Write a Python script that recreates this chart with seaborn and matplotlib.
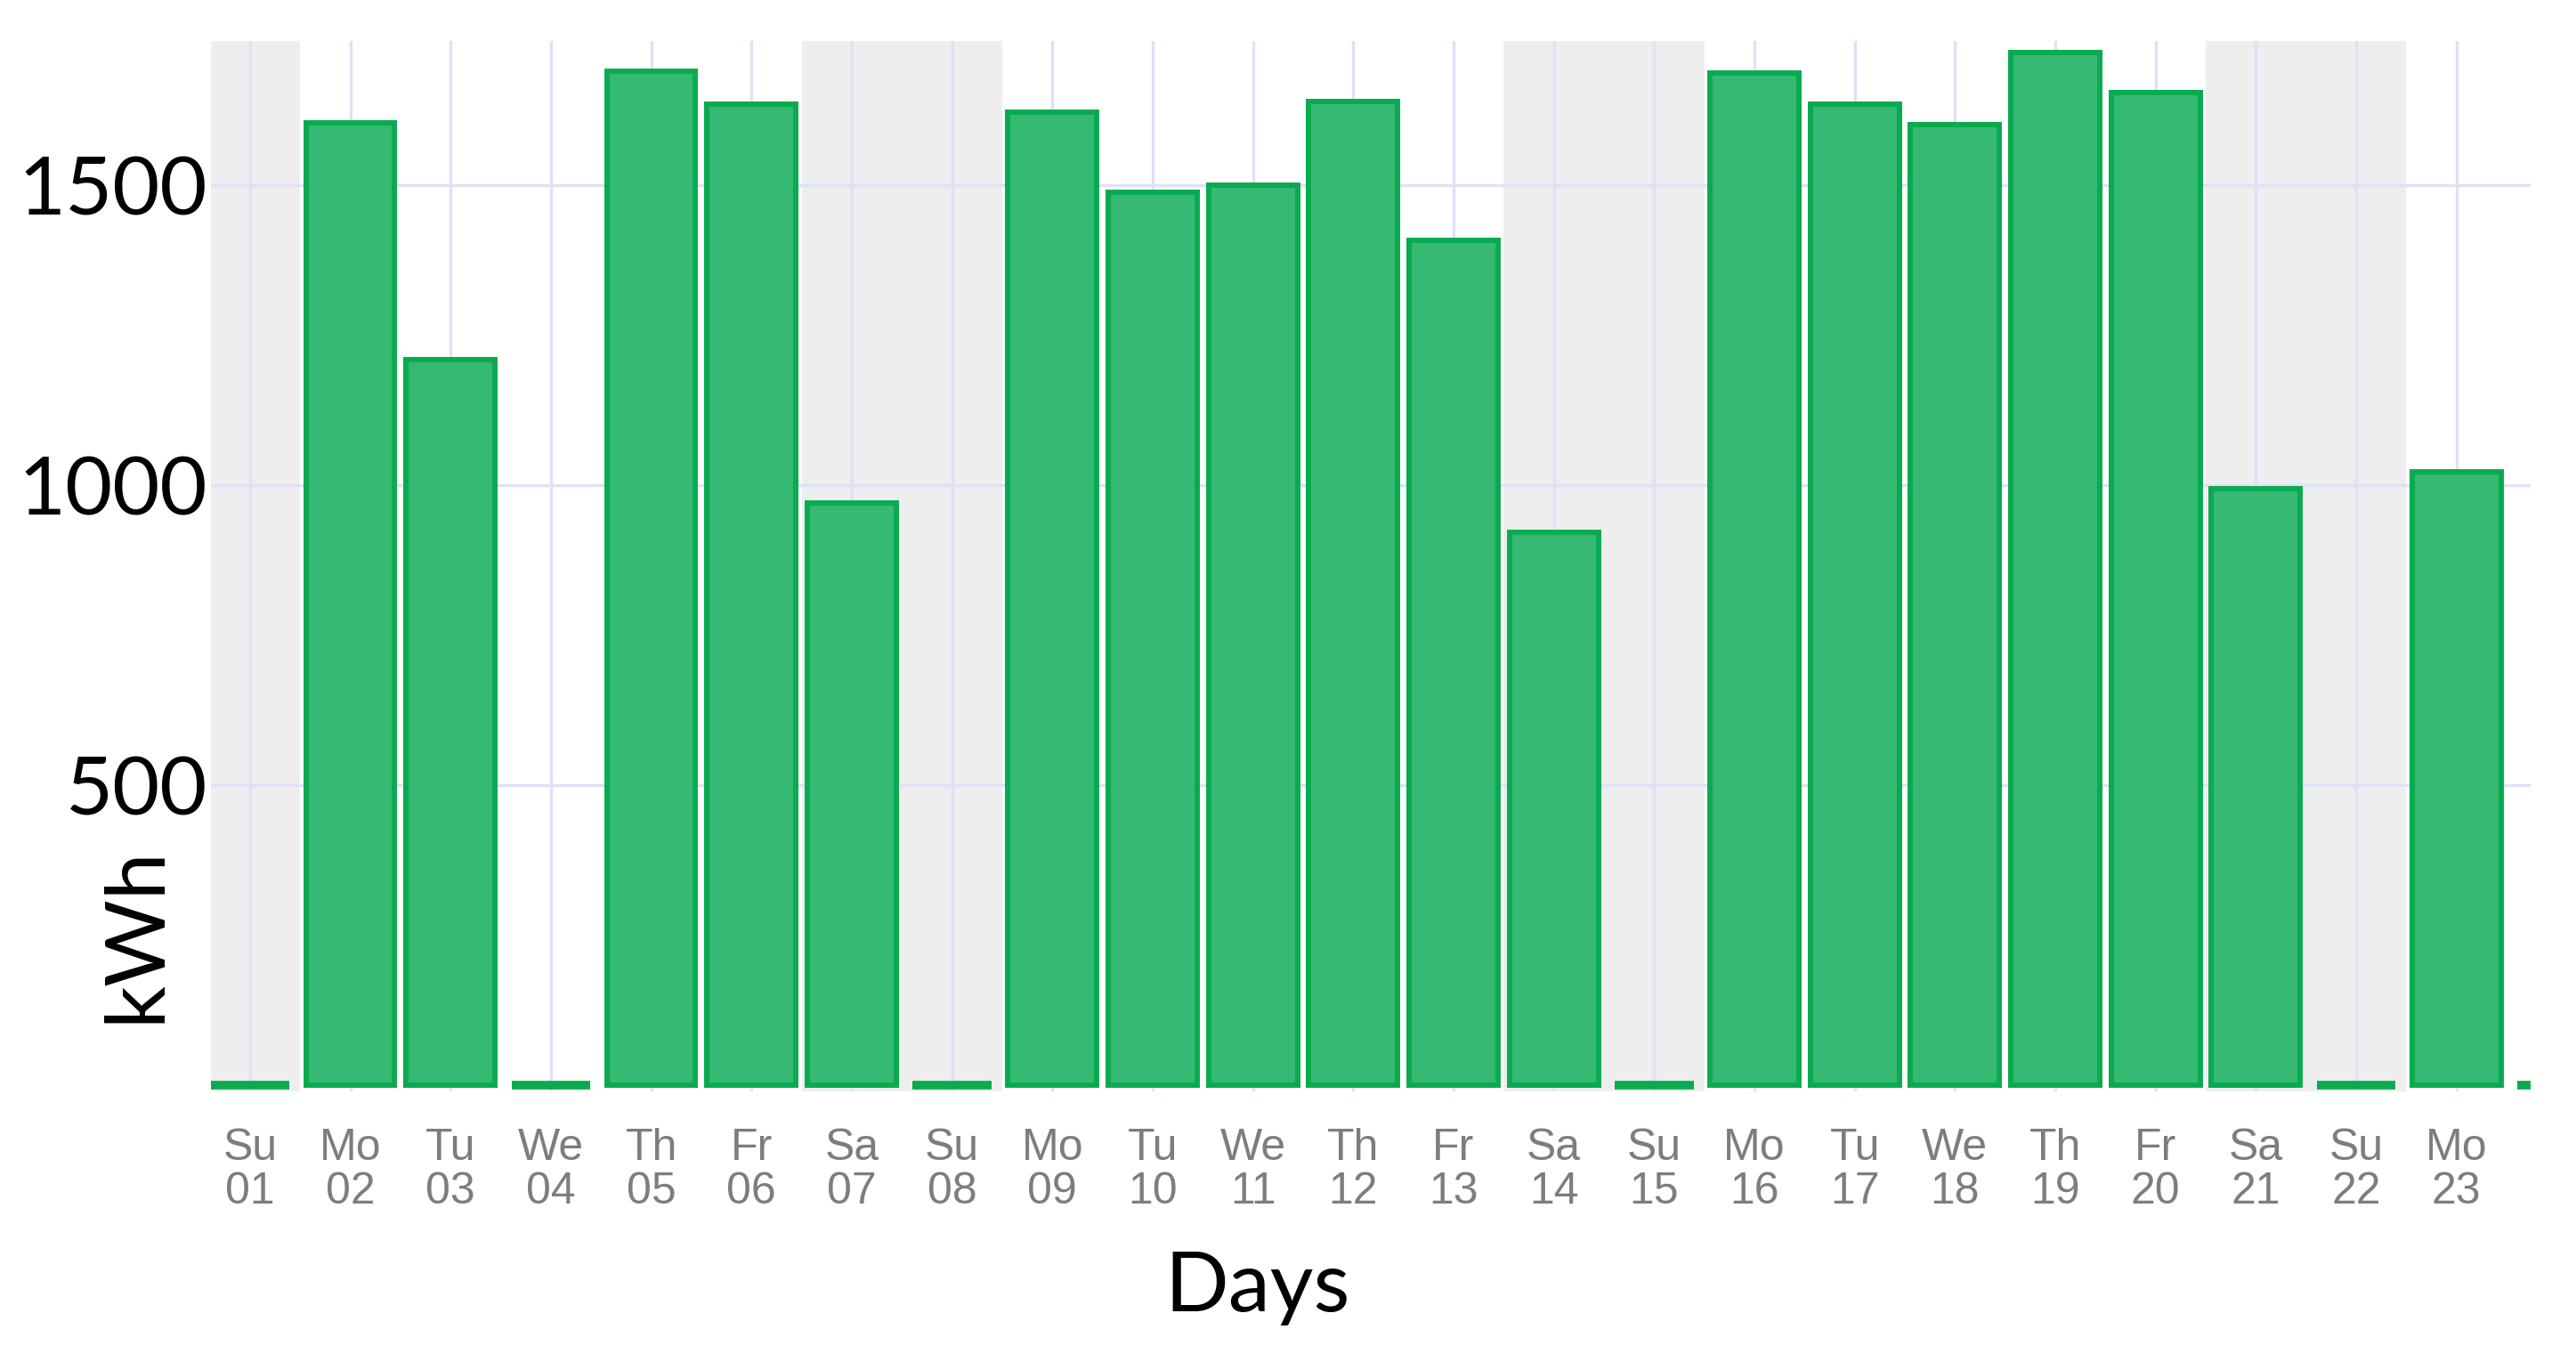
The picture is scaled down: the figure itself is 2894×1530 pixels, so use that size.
import numpy as np
import pandas as pd
import matplotlib
matplotlib.use("Agg")
import matplotlib.pyplot as plt
import seaborn as sns

# daily energy use, kWh
weekdays = ["Su", "Mo", "Tu", "We", "Th", "Fr", "Sa", "Su", "Mo", "Tu", "We", "Th",
            "Fr", "Sa", "Su", "Mo", "Tu", "We", "Th", "Fr", "Sa", "Su", "Mo", "Tu"]
days = ["01", "02", "03", "04", "05", "06", "07", "08", "09", "10", "11", "12",
        "13", "14", "15", "16", "17", "18", "19", "20", "21", "22", "23", "24"]
kwh = [0, 1605, 1210, 0, 1690, 1635, 970, 0, 1622, 1488, 1500, 1640,
       1408, 922, 0, 1688, 1636, 1602, 1722, 1655, 995, 0, 1022, 0]
weekend_spans = [(-0.6, 0.5), (5.5, 7.5), (12.5, 14.5), (19.5, 21.5)]
yticks = [500, 1000, 1500]

labels = [w + "\n" + d for w, d in zip(weekdays, days)]
df = pd.DataFrame({"day": labels, "kWh": kwh})

sns.set_style("white")
fig = plt.figure(figsize=(28.94, 15.30), dpi=100)
ax = fig.add_axes([0.0819, 0.1989, 0.9005, 0.771])

for a, b in weekend_spans:
    ax.axvspan(a, b, color="#eeeeee", zorder=0, lw=0)

sns.barplot(data=df, x="day", y="kWh", order=labels, color="#35b973", saturation=1,
            width=0.885, edgecolor="#0aab50", linewidth=4.3, ax=ax, zorder=2)

# zero days show up as a thick flat line
for p in ax.patches:
    if p.get_height() == 0:
        p.set_linewidth(7)
        p.set_x(p.get_x() + 0.05)
        p.set_width(p.get_width() - 0.1)
    p.set_clip_on(True)

ax.set_xlim(-0.39, 22.74)
ax.set_ylim(-10, 1741)
ax.set_yticks(yticks)
ax.set_yticklabels([str(t) for t in yticks])

ax.set_axisbelow(True)
ax.grid(True, color="#e0e0f8", linewidth=2.4, zorder=0.5)
for s in ax.spines.values():
    s.set_visible(False)

ax.tick_params(axis="y", length=0, pad=3, labelsize=66, labelcolor="black")
ax.tick_params(axis="x", length=0, pad=30, labelsize=36, labelcolor="#7d7d7d")
for t in ax.get_yticklabels():
    t.set_family(["Lato", "DejaVu Sans"])
for t in ax.get_xticklabels():
    t.set_family(["Liberation Sans Narrow", "Liberation Sans", "DejaVu Sans"])
    t.set_linespacing(1.06)

ax.set_xlabel("Days", fontsize=68, family=["Lato", "DejaVu Sans"], color="black")
ax.set_ylabel("kWh", fontsize=68, family=["Lato", "DejaVu Sans"], color="black")
ax.xaxis.set_label_coords(0.451, -0.188)
ax.xaxis.label.set_va("center")
ax.yaxis.set_label_coords(-0.032, 0.149)
ax.yaxis.label.set_va("center")
ax.yaxis.label.set_ha("center")

plt.savefig("out.png", dpi=100, facecolor="white")
